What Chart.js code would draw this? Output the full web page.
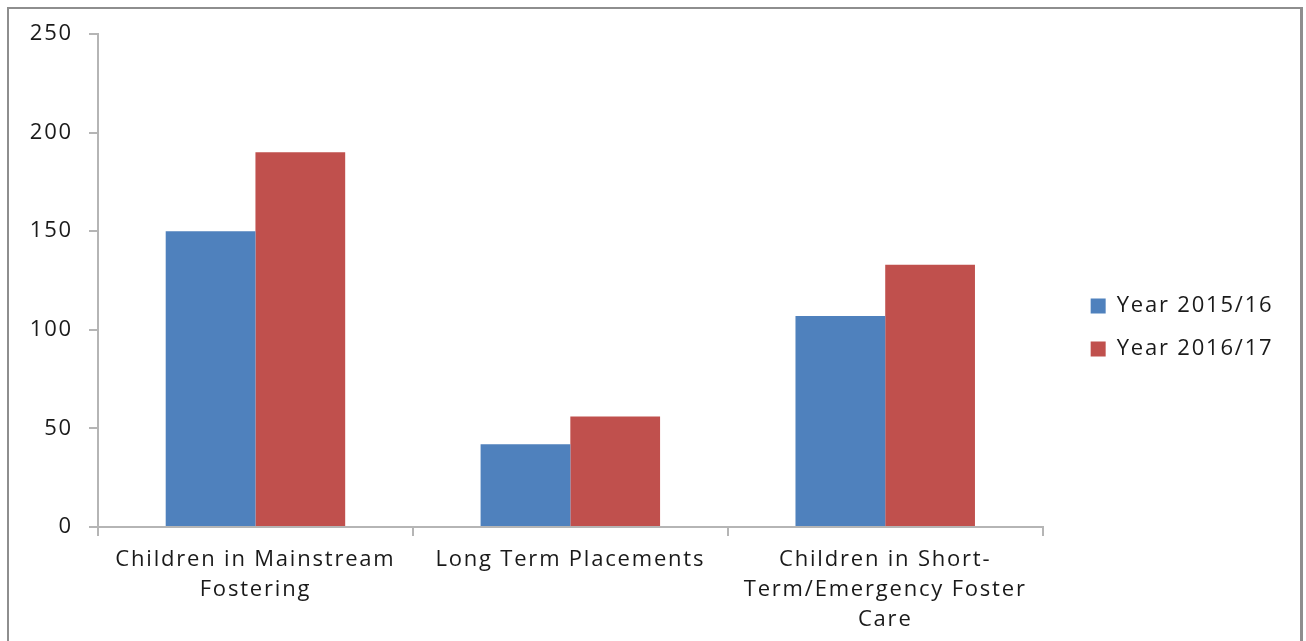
<!DOCTYPE html>
<html>
<head>
<meta charset="utf-8">
<script src="https://cdn.jsdelivr.net/npm/chart.js@4"></script>
<style>
  html, body { margin: 0; padding: 0; background: #ffffff; overflow: hidden; }
  #wrap { position: relative; width: 1306px; height: 641px; }
  #frame {
    position: absolute; left: 7px; top: 7px; width: 1296px; height: 700px;
    border: 2px solid #8e8e8e; border-right-width: 3px; box-sizing: border-box;
    pointer-events: none;
  }
  canvas { position: absolute; left: 0; top: 0; }
</style>
</head>
<body>
<div id="wrap">
  <canvas id="chart" width="1306" height="641"></canvas>
  <div id="frame"></div>
</div>
<script>
// Placement types (multi-line labels for the category axis)
const categories = [
  ['Children in Mainstream', 'Fostering'],
  'Long Term Placements',
  ['Children in Short-', 'Term/Emergency Foster', 'Care']
];
const seriesNames = ['Year 2015/16', 'Year 2016/17'];
const year2015 = [150, 42, 107];
const year2016 = [190, 56, 133];
const yTicks = [0, 50, 100, 150, 200, 250];

const FONT = { family: "'Open Sans', 'Noto Sans', sans-serif", size: 22, lineHeight: 1.35 };
const AXIS_GREY = '#b5b5b5';
const TEXT = '#1a1a1a';
const SPACING = '1.8px';

// widen the letter spacing of all canvas text
const spacingPlugin = {
  id: 'spacing',
  beforeUpdate(chart) { chart.ctx.letterSpacing = SPACING; },
  beforeDraw(chart) { chart.ctx.letterSpacing = SPACING; }
};

// empty scale used only to reserve blank space beside the plot
const spacer = (position, size) => ({
  type: 'linear', position, display: true,
  grid: { display: false }, border: { display: false }, ticks: { display: false },
  afterFit(s) { if (s.isHorizontal()) s.height = size; else s.width = size; }
});

new Chart(document.getElementById('chart'), {
  type: 'bar',
  data: {
    labels: categories,
    datasets: [
      { label: seriesNames[0], data: year2015, backgroundColor: '#4f81bd' },
      { label: seriesNames[1], data: year2016, backgroundColor: '#c0504d' }
    ]
  },
  plugins: [spacingPlugin],
  options: {
    responsive: false,
    animation: false,
    events: [],
    layout: { padding: { left: 8, top: 14, right: 24, bottom: 0 } },
    datasets: { bar: { categoryPercentage: 0.57, barPercentage: 1.0 } },
    scales: {
      x: {
        grid: { offset: true, drawOnChartArea: false, drawTicks: true, tickLength: 9, color: AXIS_GREY, lineWidth: 2 },
        border: { color: AXIS_GREY, width: 2 },
        ticks: { font: FONT, color: TEXT, padding: 9, maxRotation: 0, autoSkip: false },
        afterFit(s) { s.height = 114; }
      },
      y: {
        min: 0, max: 250,
        afterBuildTicks(s) { s.ticks = yTicks.map(v => ({ value: v })); },
        grid: { drawOnChartArea: false, drawTicks: true, tickLength: 9, color: AXIS_GREY, lineWidth: 2 },
        border: { color: AXIS_GREY, width: 2 },
        ticks: { font: FONT, color: TEXT, padding: 16 },
        afterFit(s) { s.width = 90; }
      },
      gapRight: spacer('right', 27),
      gapTop: spacer('top', 20)
    },
    plugins: {
      legend: {
        position: 'right',
        labels: { font: FONT, color: TEXT, boxWidth: 15, boxHeight: 15, padding: 21 }
      },
      tooltip: { enabled: false }
    }
  }
});
</script>
</body>
</html>
